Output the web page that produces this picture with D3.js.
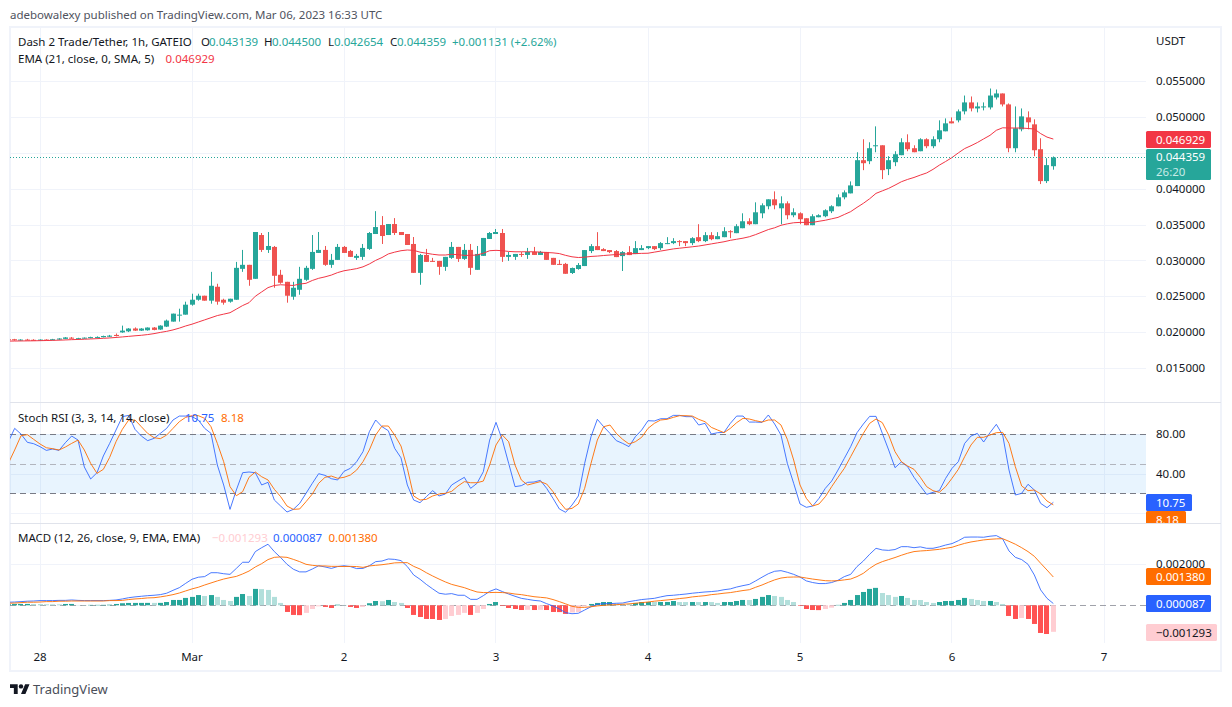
<!DOCTYPE html>
<html>
<head>
<meta charset="utf-8">
<script src="https://cdn.jsdelivr.net/npm/d3@7/dist/d3.min.js"></script>
<style>
html,body{margin:0;padding:0;background:#fff}
svg{display:block}
text{font-family:"Noto Sans",sans-serif;font-size:11.5px;fill:#131722}
</style>
</head>
<body>
<svg id="chart" width="1232" height="707"></svg>
<script>
// Hourly bars, first bar 2023-02-27 19:00 UTC
const firstBar = Date.UTC(2023,1,27,19);

const opens = [
.0190,.0190,.01885,.01895,.01892,.01885,.01895,.01888,.01895,.01905,
.01922,.01908,.01912,.01915,.01922,.01928,.01935,.0196,.01995,.0201,
.0205,.0202,.02025,.02063,.02035,.02076,.02146,.02234,.02243,.02382,
.02451,.02507,.02438,.02632,.02451,.02424,.02451,.02882,.02938,.02743,
.03354,.03146,.03188,.02799,.02701,.02493,.0259,.02729,.02882,.03104,
.03146,.02938,.03007,.03188,.03132,.03035,.03049,.0316,.03368,.03493,
.03354,.03507,.03396,.03368,.03229,.02826,.03076,.02993,.02993,.0291,
.03035,.03188,.03021,.03146,.02868,.03063,.03299,.03368,.03382,.03049,
.03049,.0309,.03076,.03118,.03076,.03118,.03035,.02951,.02951,.02824,
.0288,.02921,.0313,.03199,.03157,.03144,.0313,.0306,.03116,.03088,
.03144,.03171,.03199,.03171,.03227,.03241,.03269,.03269,.03241,.03324,
.03269,.03352,.03296,.03324,.03407,.0338,.03449,.03546,.03505,.03657,
.03755,.03852,.03727,.03796,.0363,.03657,.03588,.03491,.03602,.03616,
.03685,.03755,.0388,.03935,.04037,.04398,.04384,.04593,.04606,.04273,
.0437,.04468,.04648,.04565,.04523,.0469,.04593,.0469,.04801,.0494,
.04954,.05079,.05204,.0512,.05134,.05134,.05273,.05329,.05176,.04565,
.04829,.04995,.04898,.04551,.04106,.043139];

const highs = [
.01905,.01905,.0190,.01905,.0190,.01898,.0190,.01905,.01915,.0193,
.0193,.0192,.01925,.01935,.0194,.0195,.0196,.0198,.0209,.02055,
.02065,.02055,.02065,.0207,.02095,.02174,.02257,.02326,.02424,.02535,
.02535,.02507,.0284,.02674,.02465,.02465,.02979,.03146,.02938,.03396,
.03382,.03396,.03201,.02868,.02701,.02701,.0291,.02924,.03354,.03396,
.03201,.0309,.03229,.03201,.03146,.0309,.03229,.03396,.03687,.03618,
.03507,.0359,.03396,.03368,.03326,.0309,.0316,.03035,.02993,.03049,
.03257,.03188,.03229,.03229,.03201,.03313,.03396,.03438,.03438,.03118,
.0309,.03118,.03174,.03188,.03132,.03118,.03035,.03007,.02965,.0290,
.02963,.03144,.03227,.03394,.03171,.03144,.03144,.0313,.03199,.03269,
.03213,.03199,.03199,.03255,.03324,.0331,.03282,.03269,.03324,.03505,
.03394,.03394,.03394,.03463,.03421,.03505,.03657,.03588,.0381,.03796,
.03852,.03963,.03894,.03824,.03727,.03671,.03588,.03644,.03644,.03713,
.03769,.03921,.03977,.04102,.04509,.0469,.04648,.0487,.04606,.04454,
.04523,.04704,.04759,.04606,.04704,.04704,.04731,.04954,.04981,.04995,
.05106,.0530,.05287,.05204,.05204,.05398,.05384,.05329,.0519,.05148,
.0512,.05079,.04968,.04704,.04426,.0445];

const lows = [
.0189,.0188,.0188,.01885,.01882,.0188,.01885,.01885,.0189,.0190,
.01905,.01902,.01908,.01912,.01918,.01925,.0193,.0194,.0199,.0200,
.02015,.02015,.0202,.02025,.0203,.0207,.02146,.02146,.02243,.02368,
.02438,.02438,.02396,.02382,.02382,.0241,.02451,.0284,.02646,.02743,
.03118,.03104,.02618,.02674,.0241,.02451,.02521,.02715,.02868,.03104,
.02924,.02896,.03007,.03104,.03049,.03007,.03007,.03146,.03368,.03229,
.03354,.03354,.03354,.03215,.02826,.0266,.02979,.02979,.02799,.02854,
.03021,.02979,.03007,.02799,.02868,.03063,.03299,.03368,.02979,.02993,
.03007,.03049,.03021,.03076,.03076,.03007,.02938,.02938,.02813,.0281,
.0287,.02921,.03102,.03144,.0313,.03102,.03046,.02852,.03074,.03088,
.03144,.03157,.03144,.03144,.03227,.03227,.03199,.03199,.03213,.03255,
.03255,.03282,.03296,.03324,.0331,.0338,.03449,.03491,.03505,.03588,
.03713,.03713,.03505,.03574,.03602,.03505,.03491,.03491,.03602,.03602,
.0366,.03755,.03852,.03935,.04037,.04259,.04343,.04509,.04134,.0419,
.04315,.04468,.04523,.04509,.04523,.04565,.04565,.04648,.04801,.04912,
.04926,.05037,.05079,.05065,.05093,.05106,.05245,.05148,.04509,.04509,
.04801,.04829,.04454,.04065,.04079,.042654];

const closes = [
.0189,.01885,.01895,.01888,.01885,.01895,.01888,.0190,.0191,.01925,
.01908,.01915,.01922,.0193,.01932,.01945,.0195,.01945,.0202,.02049,
.0202,.02049,.02063,.0203,.0209,.0216,.02257,.02243,.02382,.02451,
.02507,.02438,.02646,.02424,.0241,.02465,.02896,.02938,.02729,.03396,
.03146,.03201,.02785,.02688,.02507,.02618,.02743,.02896,.03118,.03146,
.02938,.03007,.03188,.03104,.03049,.03063,.03174,.03382,.03465,.0334,
.03507,.03382,.03354,.03215,.02826,.03076,.02979,.02979,.0291,.03049,
.03188,.03021,.03146,.02896,.0309,.03313,.03382,.03396,.03049,.03076,
.0309,.03076,.03118,.03076,.03118,.03007,.02938,.02938,.02813,.02894,
.02935,.03144,.03199,.03144,.0313,.03116,.03046,.03116,.03074,.03171,
.03171,.03199,.03157,.03241,.03241,.03269,.03255,.03241,.0331,.03269,
.03352,.03296,.03338,.03407,.03394,.03477,.03546,.03505,.03671,.03769,
.03852,.03769,.03796,.0363,.03671,.03574,.03491,.03616,.0363,.03699,
.03755,.0388,.03949,.04046,.04398,.04356,.04565,.04606,.04259,.04398,
.04481,.04648,.04551,.04509,.0469,.04593,.0469,.04815,.04912,.04912,
.05079,.05204,.0512,.05148,.05148,.0530,.05329,.05176,.04565,.04843,
.05009,.04926,.04537,.04106,.04329,.044359];

const emaValues = [.01874,.01875,.01876,.01877,.01878,.0188,.01882,.01884,.01887,.0189,.01894,.01897,.0190,.01904,.01908,.01913,.01918,.01925,.01932,.0194,.01948,.01955,.01965,.01978,.01995,.0201,.0203,.02055,.02085,.0211,.0214,.0217,.0220,.0223,.0225,.0227,.0232,.0237,.0241,.0250,.0256,.0262,.0265,.0266,.02655,.0265,.0267,.0268,.0272,.0275,.0277,.02795,.0283,.02855,.0287,.02885,.0291,.0295,.0300,.0304,.0309,.03115,.03135,.03145,.0314,.03115,.0310,.03085,.03075,.03075,.03085,.0308,.0307,.0307,.03075,.0310,.03135,.0314,.03135,.03125,.0312,.0312,.0312,.0312,.03115,.0311,.03105,.03095,.0307,.0305,.0304,.03045,.03055,.0306,.03068,.03075,.03082,.03088,.03092,.03095,.03098,.0310,.03115,.0313,.03145,.0316,.0317,.0318,.0319,.0320,.03215,.0323,.03245,.0326,.0328,.03295,.0331,.0333,.0336,.03395,.0343,.03455,.0349,.0351,.03525,.0353,.0353,.0353,.03546,.0356,.0358,.0360,.0364,.0368,.0374,.03796,.0386,.03935,.0397,.04005,.0405,.04097,.0413,.04157,.0419,.0422,.0427,.04329,.0438,.04435,.0450,.0456,.0460,.04644,.04695,.04745,.04815,.0485,.04847,.04847,.04847,.0484,.04833,.04769,.0472,.046929];

const stochK = [72.4,86,80.2,71.8,70.4,67.4,63.6,65,63.6,71.4,78.2,74.1,46.7,34.5,40.9,57.9,70.7,84.3,97.9,99.2,85,78.2,73.5,75.8,80.9,86,94.5,98.5,98.5,97.9,94.5,86,80.9,48.7,28.4,3.6,23.3,40.9,41.6,40.9,28.4,31.1,13.1,7,.9,3.6,9.7,19.9,30.1,39.9,38.2,34.8,33.5,42.3,45.3,52.1,62.3,82.6,94.5,87.7,83.6,65.7,56,28.4,13.1,10.4,16.5,22.6,17.2,19.2,28.4,32.4,36.2,25,30.1,41.9,74.1,92.1,74.1,50.4,26.7,27.7,31.1,31.4,33.1,25,14.8,4,.6,8,17.2,50.4,77.5,95.2,87.7,80.9,73.5,70.7,67.4,77.5,84.3,93.8,93.5,95.8,95.8,99.2,99.2,97.9,97.9,89.4,91.1,80.2,81.6,81.9,91.1,98.5,98.5,92.4,92.4,92.1,99.6,90.4,79.2,50.4,30.1,9.1,5.7,7,14.8,25,32.4,43.6,55.5,67.4,81.6,90.4,98.2,98.2,80.9,64,46,51.8,47,36.2,27.4,18.9,20.9,22.6,35.2,45.3,52.1,70.7,78.2,80.9,72.1,81.6,90.1,79.2,43.6,18.2,19.9,29.1,23.3,9.7,5.3,10.75];

const stochD = [50.4,64,78.5,79.6,74.8,70.1,66.3,65.3,64,67,70.7,74.1,64,50.4,40.2,44.3,56.5,72.4,85,94.5,94.5,87.7,80.9,76.5,75.5,79.2,86,92.8,97.2,98.9,98.9,96.2,87.7,70.7,52.1,26.7,17.5,21.6,36.2,41.6,36.8,33.5,24,16.5,7,3.6,4,11.4,19.2,30.1,36.2,37.5,35.2,36.2,38.5,43.6,52.1,64,79.2,88.4,88.4,79.2,68,45.3,17.2,13.1,13.8,17.2,19.2,19.9,21.9,27.4,31.8,30.7,30.7,32.4,48.7,69.1,79.2,72.4,48.7,33.5,28.4,30.1,31.8,29.4,21.6,11.4,3.6,4.6,9.1,25,50.4,74.1,87.7,89.4,80.9,74.8,70.1,72.4,76.9,86,91.1,94.5,95.2,97.2,98.9,98.9,98.5,95.2,92.8,87,84.3,81.6,86,91.8,96.2,95.5,93.8,92.4,94.5,94.5,89.4,74.8,53.8,28.4,14.8,7,9.1,16.5,26.7,36.2,45.3,57.2,69.1,80.9,91.1,95.5,91.8,79.2,62.3,52.1,47.7,44.3,36.2,26.7,22.6,20.9,26.7,35.2,44.3,57.2,69.1,76.9,76.9,79.2,81.6,81.9,70.7,47,27.4,22.6,23.3,19.2,12.1,8.18];

const macdLine = [.00015,.00016,.00018,.0002,.00021,.00023,.00023,.00023,.00024,.00024,.00026,.00024,.00023,.00023,.00023,.00023,.00024,.00026,.00031,.00037,.00041,.00044,.00047,.00049,.00052,.00059,.00073,.00086,.00107,.00127,.00137,.0014,.00159,.00159,.00154,.00151,.0018,.0021,.0021,.00262,.00281,.00298,.00262,.00233,.002,.00176,.00163,.00163,.00177,.00193,.00187,.0018,.00189,.00193,.00189,.00179,.0018,.00193,.00213,.00216,.00226,.00224,.00218,.00189,.00148,.00127,.00102,.0008,.00059,.00054,.00057,.00049,.00049,.00029,.00029,.00047,.00068,.0008,.00067,.00055,.00044,.00034,.00029,.00024,.00021,.00008,-.00003,-.00018,-.00036,-.00041,-.00039,-.00023,-.00007,.00005,.00008,.00008,.0001,.00011,.00018,.00023,.00028,.00031,.00034,.00041,.00047,.00049,.00052,.00055,.00059,.00062,.00065,.00067,.0007,.00076,.0008,.00089,.00096,.00102,.00119,.00137,.00154,.00166,.00169,.00161,.00151,.00138,.00119,.00111,.00106,.00106,.00111,.00122,.0014,.00151,.00189,.00216,.00249,.00278,.0027,.00268,.00272,.00286,.00286,.00281,.00285,.00278,.00278,.00285,.00294,.00301,.00315,.00332,.00333,.00333,.00332,.00337,.0034,.00324,.00265,.00234,.00223,.002,.00148,.00075,.00034,.000087];

const macdSignal = [.0001,.00011,.00013,.00015,.00015,.00016,.00018,.00018,.0002,.0002,.00021,.00021,.00021,.00021,.00021,.00021,.00023,.00023,.00024,.00028,.00031,.00033,.00036,.00037,.00041,.00046,.00052,.0006,.0007,.0008,.00088,.00099,.00109,.00119,.00128,.00135,.00141,.00153,.00167,.00187,.00203,.00223,.00234,.00236,.00234,.00224,.00213,.002,.00195,.00192,.00192,.0019,.0019,.00189,.0019,.00189,.00185,.00192,.00195,.00198,.00202,.00207,.00208,.00208,.0019,.00177,.00159,.00143,.00128,.00114,.00102,.00094,.00086,.00075,.00065,.00062,.00062,.00063,.00062,.0006,.00055,.00052,.00047,.00042,.00039,.00036,.00028,.00018,.00007,-.00005,-.0001,-.0001,-.00007,-.00003,0,.00002,.00003,.00005,.00007,.0001,.00013,.00016,.0002,.00023,.00026,.00029,.00033,.00036,.00041,.00044,.00047,.00052,.00055,.00059,.00062,.00067,.00072,.00076,.00088,.00099,.00112,.00124,.00133,.00137,.00138,.00138,.00133,.00128,.00124,.0012,.00119,.0012,.00124,.00128,.0014,.00156,.0018,.002,.00213,.00223,.00233,.00244,.00254,.00262,.00265,.00267,.0027,.00273,.00278,.00283,.00293,.00302,.00309,.00314,.00319,.00322,.00324,.00325,.00312,.00298,.00281,.00262,.00239,.00205,.00172,.00138];

const macdHist = [.00005,.000066,.000067,.000068,.000065,.000064,.00005,.000049,.000048,.000065,.000066,.000016,.000015,.00002,.000021,.000022,.00003,.000065,.0001,.000115,.000116,.000117,.000118,.000117,.000118,.00016,.00026,.000261,.00036,.00041,.0005,.000455,.0005,.00041,.00026,.00021,.00041,.00055,.000455,.0008,.00079,.00075,.00041,.000115,-.000325,-.00047,-.00048,-.00037,-.00018,-.00005,-.00008,-.00013,.00003,.000016,-.00008,-.00013,-.00008,.0001,.00021,.0002,.00026,.00016,.000115,-.00013,-.00047,-.00057,-.000667,-.000668,-.000715,-.000667,-.00052,-.00047,-.00037,-.00047,-.00037,-.00018,.000065,.00016,-.00003,-.00013,-.00018,-.00023,-.00022,-.00023,-.00022,-.00023,-.000325,-.00033,-.00042,-.00035,-.00033,-.00005,.000065,.000115,.00016,.000161,.00008,.00007,.00006,.000115,.00016,.000161,.00016,.000162,.000163,.00021,.00016,.000159,.00016,.000159,.00016,.000159,.000115,.00016,.000161,.00021,.00026,.000259,.00031,.00041,.0005,.000455,.00041,.00026,.00016,-.00003,-.00018,-.00023,-.000235,-.00018,-.000115,.00002,.000115,.00026,.0005,.00065,.0008,.00085,.0006,.0005,.00041,.000455,.00036,.00026,.000259,.00016,.000115,.00016,.00021,.000211,.00026,.00036,.00031,.00026,.00021,.000211,.00016,.000065,-.00052,-.000667,-.00062,-.000667,-.00091,-.00135,-.0014,-.001293];

const priceTicks = [.015,.02,.025,.03,.035,.04,.045,.05,.055];
const stochLabelTicks = [40,80];
const stochGridTicks = [0,40,80];
const macdTicks = [.002];
const dayTicks = [[1,28],[2,1],[2,2],[2,3],[2,4],[2,5],[2,6],[2,7]];
const dayLabels = ["28","Mar","2","3","4","5","6","7"];

const GREEN="#26a69a", RED="#ef5350", BLUE="#2962ff", ORANGE="#ff6d00", GRID="#f0f3fa";
const n = closes.length;
const times = d3.range(n).map(i=>new Date(firstBar+i*3600e3));

const x = d3.scaleUtc().domain([new Date(Date.UTC(2023,1,28)),new Date(Date.UTC(2023,2,7))]).range([39.5,1103.5]);
const yPrice = d3.scaleLinear().domain([.015,.055]).range([367.9,81.2]);
const yStoch = d3.scaleLinear().domain([0,100]).range([512.9,414.6]);
const yMacd = d3.scaleLinear().domain([-.001,.002]).range([625.8,564.3]);

const L=10,R=1146,T=28,B=643;
const svg=d3.select("#chart");
const defs=svg.append("defs");
function clip(id,x0,y0,x1,y1){defs.append("clipPath").attr("id",id).append("rect").attr("x",x0).attr("y",y0).attr("width",x1-x0).attr("height",y1-y0);}
clip("cMain",L,T,R,402); clip("cStoch",L,403,R,523); clip("cMacd",L,524,R,B); clip("cStochAxis",R,403,1221,523);

// header
svg.append("text").attr("x",10).attr("y",19).style("fill","#50535e").text("adebowalexy published on TradingView.com, Mar 06, 2023 16:33 UTC");

// frame
svg.append("rect").attr("x",10).attr("y",27).attr("width",1211).attr("height",644).attr("fill","none").attr("stroke",GRID).attr("stroke-width",2);

// vertical grid
const dayDates=dayTicks.map(([m,d])=>new Date(Date.UTC(2023,m,d)));
svg.append("g").selectAll("line").data(dayDates).join("line")
  .attr("x1",d=>Math.round(x(d))+.5).attr("x2",d=>Math.round(x(d))+.5).attr("y1",T).attr("y2",B)
  .attr("stroke",GRID);

function hGrid(vals,scale){
  svg.append("g").selectAll("line").data(vals).join("line")
   .attr("x1",L).attr("x2",R).attr("y1",d=>Math.round(scale(d))+.5).attr("y2",d=>Math.round(scale(d))+.5)
   .attr("stroke",GRID);
}
hGrid(priceTicks,yPrice); hGrid(stochGridTicks,yStoch); hGrid(macdTicks,yMacd);

// pane separators
[402.5,523.5].forEach(y=>svg.append("line").attr("x1",L).attr("x2",1221).attr("y1",y).attr("y2",y).attr("stroke","#e0e3eb"));

// price pane
const main=svg.append("g").attr("clip-path","url(#cMain)");
const idx=d3.range(n);
const colorOf=i=>closes[i]>=opens[i]?GREEN:RED;
main.append("g").selectAll("rect").data(idx).join("rect")
  .attr("x",i=>Math.round(x(times[i]))).attr("width",1)
  .attr("y",i=>yPrice(highs[i])).attr("height",i=>yPrice(lows[i])-yPrice(highs[i]))
  .attr("fill",colorOf);
main.append("g").selectAll("rect").data(idx).join("rect")
  .attr("x",i=>Math.round(x(times[i]))-2).attr("width",5)
  .attr("y",i=>yPrice(Math.max(opens[i],closes[i])))
  .attr("height",i=>Math.max(1,Math.abs(yPrice(opens[i])-yPrice(closes[i]))))
  .attr("fill",colorOf);
const lineOf=(arr,scale)=>d3.line().x((d,i)=>x(times[i])+.5).y(d=>scale(d))(arr);
main.append("path").attr("d",lineOf(emaValues,yPrice)).attr("fill","none").attr("stroke","#f23645").attr("stroke-width",1);
main.append("line").attr("x1",L).attr("x2",R).attr("y1",Math.round(yPrice(closes[n-1]))+.5).attr("y2",Math.round(yPrice(closes[n-1]))+.5)
  .attr("stroke",GREEN).attr("stroke-dasharray","1 2");

// stoch pane
const st=svg.append("g").attr("clip-path","url(#cStoch)");
st.append("rect").attr("x",L).attr("width",R-L).attr("y",yStoch(80)).attr("height",yStoch(20)-yStoch(80)).attr("fill","#2196f3").attr("fill-opacity",.1);
[[80,"#787b86"],[50,"#b2b5be"],[20,"#787b86"]].forEach(([v,c])=>{
  st.append("line").attr("x1",L).attr("x2",R).attr("y1",Math.round(yStoch(v))+.5).attr("y2",Math.round(yStoch(v))+.5).attr("stroke",c).attr("stroke-dasharray","6 4");
});
st.append("path").attr("d",lineOf(stochK,yStoch)).attr("fill","none").attr("stroke",BLUE).attr("stroke-opacity",.85).attr("stroke-width",1);
st.append("path").attr("d",lineOf(stochD,yStoch)).attr("fill","none").attr("stroke",ORANGE).attr("stroke-opacity",.9).attr("stroke-width",1);

// macd pane
const mc=svg.append("g").attr("clip-path","url(#cMacd)");
mc.append("line").attr("x1",L).attr("x2",R).attr("y1",Math.round(yMacd(0))+.5).attr("y2",Math.round(yMacd(0))+.5).attr("stroke","#787b86").attr("stroke-opacity",.7).attr("stroke-dasharray","6 4");
const histColor=i=>{
  const v=macdHist[i],p=i?macdHist[i-1]:0;
  return v>=0?(v>p?GREEN:"#b2dfdb"):(v<p?"#ff5252":"#ffcdd2");
};
mc.append("g").selectAll("rect").data(idx).join("rect")
  .attr("x",i=>Math.round(x(times[i]))-2).attr("width",5)
  .attr("y",i=>Math.min(yMacd(0),yMacd(macdHist[i])))
  .attr("height",i=>Math.abs(yMacd(macdHist[i])-yMacd(0)))
  .attr("fill",histColor);
mc.append("path").attr("d",lineOf(macdLine,yMacd)).attr("fill","none").attr("stroke",BLUE).attr("stroke-opacity",.85).attr("stroke-width",1);
mc.append("path").attr("d",lineOf(macdSignal,yMacd)).attr("fill","none").attr("stroke",ORANGE).attr("stroke-opacity",.9).attr("stroke-width",1);

// axes (labels)
function styleAxis(g){g.select(".domain").remove();g.selectAll(".tick line").remove();g.attr("font-family",null).attr("font-size",null);}
svg.append("g").attr("transform","translate(1156,0)")
  .call(d3.axisRight(yPrice).tickValues(priceTicks).tickFormat(d3.format(".6f")).tickSize(0).tickPadding(0)).call(styleAxis);
svg.append("g").attr("transform","translate(1156,0)")
  .call(d3.axisRight(yStoch).tickValues(stochLabelTicks).tickFormat(d3.format(".2f")).tickSize(0).tickPadding(0)).call(styleAxis);
svg.append("g").attr("transform","translate(1156,0)")
  .call(d3.axisRight(yMacd).tickValues(macdTicks).tickFormat(d3.format(".6f")).tickSize(0).tickPadding(0)).call(styleAxis);
svg.append("g").attr("transform","translate(0,653)")
  .call(d3.axisBottom(x).tickValues(dayDates).tickFormat((d,i)=>dayLabels[i]).tickSize(0).tickPadding(0)).call(styleAxis);

svg.append("text").attr("x",1156).attr("y",45).text("USDT");

// value tags
function tag(parent,y,h,w,bg,txt,color){
  parent.append("rect").attr("x",R).attr("y",y).attr("width",w).attr("height",h).attr("fill",bg).attr("rx",1.5);
  parent.append("text").attr("x",1156).attr("y",y+h/2+4.2).style("fill",color).text(txt);
}
tag(svg,131,17,65,"#f23645",d3.format(".6f")(emaValues[n-1]),"#fff");
svg.append("rect").attr("x",R).attr("y",149).attr("width",65).attr("height",31).attr("fill",GREEN).attr("rx",1.5);
svg.append("text").attr("x",1156).attr("y",161).style("fill","#fff").text(d3.format(".6f")(closes[n-1]));
svg.append("text").attr("x",1156).attr("y",176).style("fill","#c8ebe7").text("26:20");

const sa=svg.append("g").attr("clip-path","url(#cStochAxis)");
tag(sa,494,17,46,BLUE,d3.format(".2f")(stochK[n-1]),"#fff");
tag(sa,511,17,40,ORANGE,d3.format(".2f")(stochD[n-1]),"#fff");
tag(svg,568,17,65,ORANGE,d3.format(".6f")(macdSignal[n-1]),"#fff");
tag(svg,595,17,65,BLUE,d3.format(".6f")(macdLine[n-1]),"#fff");
tag(svg,624,17,71,"#ffcdd2","\u2212"+d3.format(".6f")(-macdHist[n-1]),"#131722");

// legends
function legend(y,parts){parts.forEach(([px,t,c])=>svg.append("text").attr("x",px).attr("y",y).style("fill",c).text(t));}
const TXT="#131722",UP="#26a69a";
legend(46,[[18,"Dash 2 Trade/Tether, 1h, GATEIO",TXT],[201,"O",TXT],[209,"0.043139",UP],[264,"H",TXT],[272,"0.044500",UP],[328,"L",TXT],[334,"0.042654",UP],[390,"C",TXT],[397,"0.044359",UP],[452,"+0.001131 (+2.62%)",UP]]);
legend(63,[[18,"EMA (21, close, 0, SMA, 5)",TXT],[165.5,"0.046929","#f23645"]]);
legend(422,[[18,"Stoch RSI (3, 3, 14, 14, close)",TXT],[185,"10.75",BLUE],[221,"8.18",ORANGE]]);
legend(542,[[18,"MACD (12, 26, close, 9, EMA, EMA)",TXT],[212,"\u22120.001293","#ffcdd2"],[273,"0.000087",BLUE],[328.5,"0.001380",ORANGE]]);

// footer brand
const logo=svg.append("g").attr("transform","translate(10,682) scale(.55)").attr("fill","#131722");
logo.append("path").attr("d","M14 22H7V11H0V4h14v18zM28 22h-8l7.5-18h8L28 22z");
logo.append("circle").attr("cx",20).attr("cy",8).attr("r",4);
svg.append("text").attr("x",33).attr("y",694).style("font-size","13px").style("fill","#4a4e59").text("TradingView");
</script>
</body>
</html>
